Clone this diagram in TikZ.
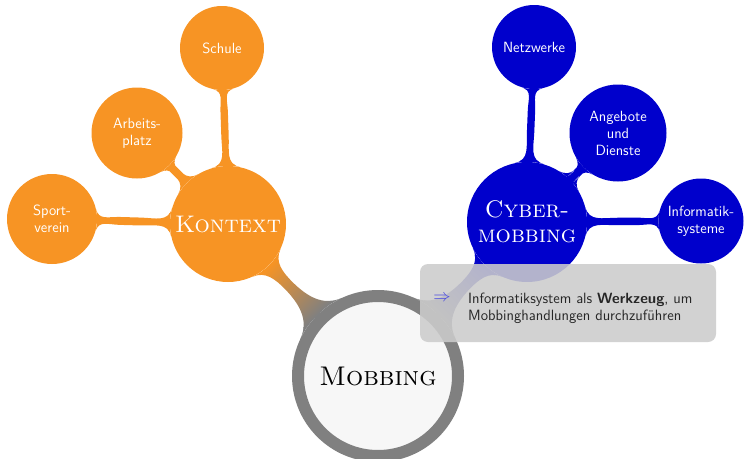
\documentclass[tikz,border=0pt]{standalone}
\usetikzlibrary{mindmap}
\definecolor{korange}{RGB}{247,148,36}
\definecolor{cblue}{RGB}{0,0,204}
\definecolor{mgray}{RGB}{128,128,128}
\definecolor{mfill}{RGB}{247,247,247}
\definecolor{arrowblue}{RGB}{70,70,225}
\pgfdeclarelayer{background}
\pgfsetlayers{background,main}
\begin{document}
\begin{tikzpicture}[x=1pt,y=-1pt,
  leaf/.style={circle, inner sep=0pt, text=white, align=center,
    font=\sffamily\fontsize{14.8}{17}\selectfont},
  hub/.style={circle, inner sep=0pt, text=white, align=center,
    font=\fontsize{24}{25}\selectfont\scshape},
  orangeleaf/.style={leaf, fill=korange},
  blueleaf/.style={leaf, fill=cblue},
  rootnode/.style={circle, inner sep=0pt, minimum size=160pt, fill=mfill,
    draw=mgray, line width=12pt, font=\fontsize{27}{30}\selectfont\scshape},
  notebox/.style={rounded corners=8pt, fill=black!20, fill opacity=0.88,
    minimum width=296pt, minimum height=78pt, inner sep=0pt},
  notetext/.style={align=left, inner sep=0pt, text=black!85,
    font=\sffamily\fontsize{14.9}{16.7}\selectfont},
  mainbar/.style={decoration={angle=20}},
  leafbar/.style={decoration={angle=14}}
]
\useasboundingbox (0,0) rectangle (744,458);

\node[rootnode] (m) at (378,376) {Mobbing};

\node[hub, fill=korange, minimum size=116pt] (k) at (228,224) {Kontext};
\node[orangeleaf, minimum size=84pt] (schule) at (222,48) {Schule};
\node[orangeleaf, minimum size=91pt] (arbeit) at (137,133) {Arbeits-\\platz};
\node[orangeleaf, minimum size=90pt] (sport) at (52,219) {Sport-\\verein};

\node[hub, fill=cblue, minimum size=120pt] (c) at (527,222) {Cyber-\\mobbing};
\node[blueleaf, minimum size=84pt] (netz) at (534,47) {Netzwerke};
\node[blueleaf, minimum size=97pt] (angebot) at (618,133) {Angebote\\und\\Dienste};
\node[blueleaf, minimum size=85pt] (info) at (701,221) {Informatik-\\systeme};

\begin{pgfonlayer}{background}
\path (k) to[circle connection bar switch color=from (korange) to (mgray), mainbar] (m);
\path (c) to[circle connection bar switch color=from (cblue) to (mgray), mainbar] (m);
\path (k) to[circle connection bar switch color=from (korange) to (korange), leafbar] (schule);
\path (k) to[circle connection bar switch color=from (korange) to (korange), leafbar] (arbeit);
\path (k) to[circle connection bar switch color=from (korange) to (korange), leafbar] (sport);
\path (c) to[circle connection bar switch color=from (cblue) to (cblue), leafbar] (netz);
\path (c) to[circle connection bar switch color=from (cblue) to (cblue), leafbar] (angebot);
\path (c) to[circle connection bar switch color=from (cblue) to (cblue), leafbar] (info);
\end{pgfonlayer}

\node[notebox] (note) at (568,303) {};
\node[text=arrowblue, inner sep=0pt, font=\fontsize{17}{20}\selectfont] (arrow) at (442,298) {$\Rightarrow$};
\node[notetext, anchor=west] (notetxt) at (468,308) {Informatiksystem als \textbf{Werkzeug}, um\\Mobbinghandlungen durchzuführen};
\end{tikzpicture}
\end{document}
